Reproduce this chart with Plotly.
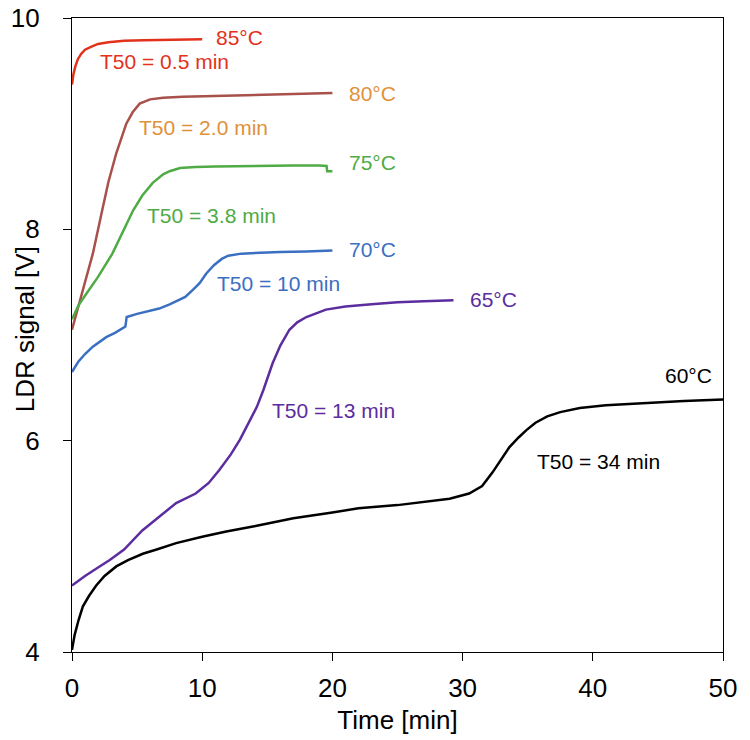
import plotly.graph_objects as go

t85 = [0, 0.1, 0.25, 0.45, 0.7, 1.0, 1.5, 2.0, 2.8, 4.0, 5.5, 7.0, 8.5, 10.0]
v85 = [9.37, 9.46, 9.54, 9.61, 9.66, 9.70, 9.73, 9.755, 9.77, 9.785, 9.79, 9.795, 9.80, 9.80]

t80 = [0, 0.5, 1.0, 1.6, 2.37, 2.8, 3.4, 4.17, 4.67, 5.2, 6.0, 7.0, 8.5, 10, 12, 14, 16, 18, 19.5, 20]
v80 = [7.05, 7.28, 7.50, 7.77, 8.21, 8.45, 8.72, 9.00, 9.11, 9.19, 9.23, 9.245, 9.255, 9.26, 9.27,
       9.275, 9.28, 9.285, 9.29, 9.29]

t75 = [0, 0.5, 1.1, 2.0, 3.1, 4.0, 4.7, 5.4, 6.2, 7.0, 7.5, 8.3, 9.5, 11, 13, 15, 17, 19, 19.55, 19.6, 20]
v75 = [7.15, 7.28, 7.39, 7.55, 7.77, 8.00, 8.18, 8.32, 8.44, 8.52, 8.55, 8.58, 8.59, 8.595, 8.60,
       8.60, 8.605, 8.605, 8.60, 8.55, 8.55]

t70 = [0, 0.5, 1.0, 1.6, 2.63, 3.3, 4.1, 4.2, 5.0, 6.0, 6.7, 7.5, 8.0, 8.7, 9.3, 9.8, 10.3, 10.9,
       11.5, 12.0, 13.0, 14.5, 16, 18, 19.5, 20]
v70 = [6.65, 6.75, 6.82, 6.89, 6.98, 7.02, 7.08, 7.17, 7.20, 7.23, 7.25, 7.29, 7.32, 7.36, 7.43,
       7.49, 7.58, 7.66, 7.72, 7.75, 7.77, 7.78, 7.785, 7.79, 7.80, 7.80]

t65 = [0, 1.0, 2.0, 2.9, 4.0, 5.4, 6.7, 8.0, 9.5, 10.5, 11.3, 12.2, 12.9, 13.5, 14.2, 14.7, 15.4,
       16.0, 16.7, 17.3, 18.0, 19.5, 21, 23, 25, 27, 29.3]
v65 = [4.63, 4.72, 4.80, 4.87, 4.97, 5.15, 5.28, 5.41, 5.50, 5.60, 5.72, 5.87, 6.01, 6.15, 6.32,
       6.48, 6.73, 6.90, 7.05, 7.12, 7.17, 7.24, 7.27, 7.29, 7.31, 7.32, 7.33]

t60 = [0, 0.2, 0.5, 0.83, 1.3, 1.86, 2.5, 3.4, 4.3, 5.44, 6.5, 8.0, 10, 11.85, 14, 17, 20, 22, 25,
       27.2, 29, 30.5, 31.5, 32.3, 33.0, 33.6, 34.3, 34.9, 35.6, 36.5, 37.5, 39, 41, 43, 45, 47, 50]
v60 = [4.02, 4.16, 4.30, 4.43, 4.53, 4.63, 4.72, 4.81, 4.87, 4.93, 4.97, 5.03, 5.09, 5.14, 5.19,
       5.265, 5.32, 5.36, 5.39, 5.42, 5.45, 5.50, 5.57, 5.70, 5.83, 5.94, 6.03, 6.10, 6.17, 6.23,
       6.27, 6.31, 6.335, 6.35, 6.365, 6.375, 6.39]

series = [
    (t85, v85, "#e2321c"),
    (t80, v80, "#a8504a"),
    (t75, v75, "#4fab45"),
    (t70, v70, "#3b6fc2"),
    (t65, v65, "#5b2d9e"),
    (t60, v60, "#000000"),
]

# labels: (x, y, text, colour)
labels = [
    (10.9, 9.815, "85°C", "#e2321c"),
    (1.96, 9.59, "T50 = 0.5 min", "#e2321c"),
    (21.1, 9.29, "80°C", "#e0913a"),
    (4.98, 8.965, "T50 = 2.0 min", "#e0913a"),
    (21.1, 8.63, "75°C", "#4fab45"),
    (5.57, 8.13, "T50 = 3.8 min", "#4fab45"),
    (21.1, 7.805, "70°C", "#3b6fc2"),
    (10.95, 7.49, "T50 = 10 min", "#3b6fc2"),
    (30.4, 7.335, "65°C", "#5b2d9e"),
    (15.18, 6.29, "T50 = 13 min", "#5b2d9e"),
    (45.4, 6.615, "60°C", "#000000"),
    (35.55, 5.80, "T50 = 34 min", "#000000"),
]

font = "Arial, Liberation Sans, Helvetica, sans-serif"

fig = go.Figure()
for t, v, c in series:
    fig.add_trace(go.Scatter(x=t, y=v, mode="lines", line=dict(color=c, width=2.5),
                             showlegend=False, hoverinfo="skip"))

for x, y, txt, c in labels:
    fig.add_annotation(x=x, y=y, text=txt, showarrow=False, xanchor="left", yanchor="middle",
                       font=dict(family=font, size=21, color=c))

# y axis title placed by hand, flush with the left edge of the figure
fig.add_annotation(x=-64 / 651, y=0.509, xref="paper", yref="paper", text="LDR signal [V]",
                   textangle=-90, showarrow=False, xanchor="left", yanchor="middle",
                   font=dict(family=font, size=26, color="black"))

axis_style = dict(showline=True, mirror=True, linecolor="black", linewidth=1.3,
                  ticks="outside", ticklen=8, tickcolor="black", tickwidth=1.3,
                  showgrid=False, zeroline=False, automargin=False,
                  ticklabeloverflow="allow",
                  tickfont=dict(family=font, size=26, color="black"))

fig.update_xaxes(range=[0, 50], dtick=10, ticklabelstandoff=5,
                 title=dict(text="Time [min]", standoff=8,
                            font=dict(family=font, size=26, color="black")), **axis_style)
fig.update_yaxes(range=[4, 10], dtick=2, ticklabelstandoff=18, **axis_style)

# page body adds an 8px offset, so the figure is 8px smaller and margins shifted
fig.update_layout(width=742, height=732, plot_bgcolor="white", paper_bgcolor="white",
                  margin=dict(l=64, r=27, t=10, b=88))

fig.write_html("out.html")
